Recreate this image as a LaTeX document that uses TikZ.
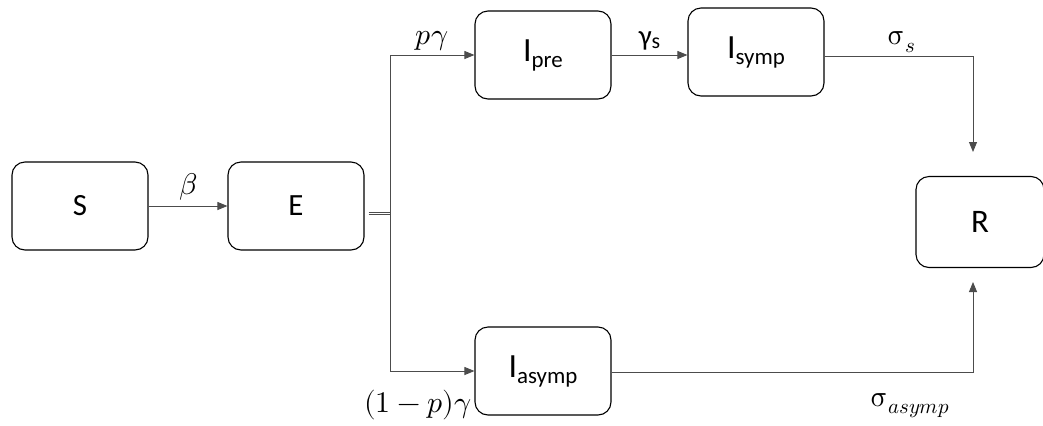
\documentclass[tikz,border=0pt]{standalone}
\usepackage{fontspec}
\usepackage{unicode-math}
\setmainfont{Carlito}
\usetikzlibrary{arrows.meta}

\newcommand{\Isub}[1]{{\fontsize{34}{34}\selectfont I}{\fontsize{23}{23}\selectfont\raisebox{-6bp}{#1}}}

\tikzset{
  box/.style={draw,line width=1.1bp,rounded corners=13bp,minimum width=136bp,minimum height=88bp,inner sep=0pt},
  flow/.style={draw=black!70,line width=0.9bp,-{Triangle[length=10bp,width=8bp]}},
  rate/.style={font=\fontsize{30}{32}\selectfont}
}

\begin{document}
\begin{tikzpicture}[x=1bp,y=-1bp]
\useasboundingbox (0,0) rectangle (1043,425);

\node[box,font=\fontsize{31}{31}\selectfont] (S) at (80,206) {S};
\node[box,font=\fontsize{31}{31}\selectfont] (E) at (296,206) {E};
\node[box] (Ipre) at (543,55) {\Isub{pre}};
\node[box] (Isymp) at (756,52) {\Isub{symp}};
\node[box] (Iasymp) at (543,371) {\Isub{asymp}};
\node[box,minimum width=128bp,minimum height=91bp,font=\fontsize{33}{33}\selectfont] (R) at (980,222) {R};

%branch point:
\coordinate (split) at (390,213);
\coordinate (rtop) at (973,152);
\coordinate (rbot) at (973,282);

\draw[flow] (S) -- (E) node[midway,above=2bp,rate] {$\beta$};

\draw[black!70,line width=0.8bp] ([xshift=4bp,yshift=-1bp]E.east |- split) -- ([yshift=-1bp]split);
\draw[black!70,line width=0.8bp] ([xshift=4bp,yshift=1bp]E.east |- split) -- ([yshift=1bp]split);
\draw[flow] ([yshift=-1bp]split) |- (Ipre.west) node[pos=0.75,above=0bp,rate] {$p\gamma$};
\draw[flow] ([yshift=1bp]split) |- (Iasymp.west);
\node[rate] (lq) at (418,405) {$(1-p)\gamma$};

\draw[flow] (Ipre.east -| Ipre.east) -- (Isymp.west |- Ipre.east)
  node[midway,above=1bp,font=\fontsize{29}{31}\selectfont] {γ{\fontsize{22}{22}\selectfont\raisebox{-3bp}{s}}};

\draw[flow] (Isymp.east |- 0,56) -| (rtop);
\node[rate] (ls) at (902,42) {$\upsigma_{s}$};
\draw[flow] (Iasymp.east |- 0,372) -| (rbot);
\node[rate] (la) at (910,406) {$\upsigma_{asymp}$};

\end{tikzpicture}
\end{document}
